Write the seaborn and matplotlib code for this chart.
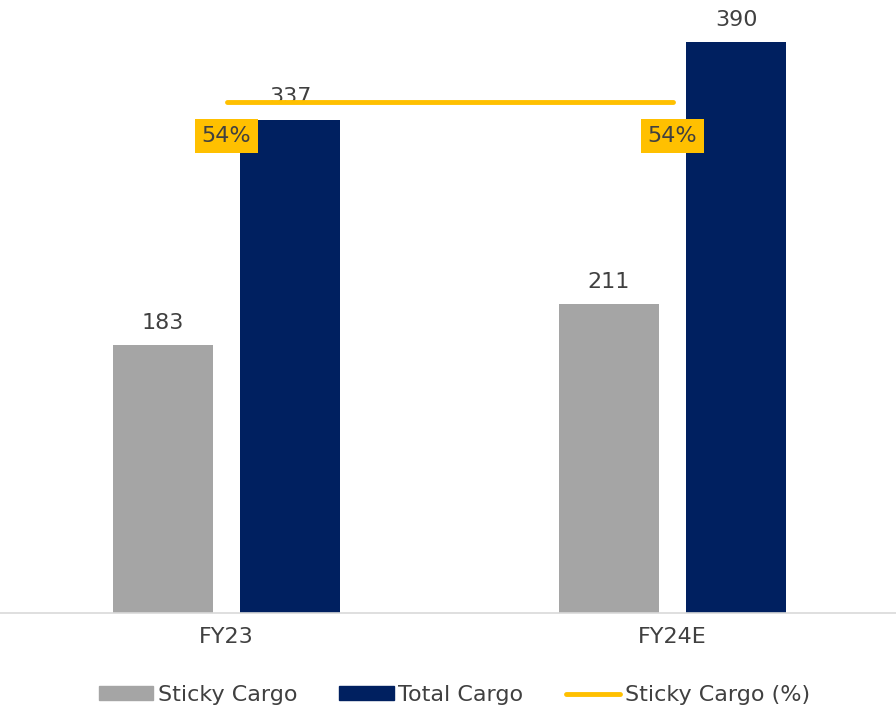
import matplotlib.pyplot as plt
import matplotlib.lines as mlines
import pandas as pd
import seaborn as sns

# values
years = ['FY23', 'FY24E']
sticky_cargo = [183, 211]
total_cargo = [337, 390]
sticky_pct = [0.54, 0.54]

df = pd.DataFrame({'Year': years * 2,
                   'Series': ['Sticky Cargo'] * 2 + ['Total Cargo'] * 2,
                   'Value': sticky_cargo + total_cargo})

sns.set_theme(style='white')
plt.rcParams['font.family'] = ['DejaVu Sans']
txt = '#404040'
fs = 16

fig = plt.figure(figsize=(8.96, 7.13), dpi=100)
ax = fig.add_axes([0, 100 / 713, 1, 613 / 713])

sns.barplot(data=df, x='Year', y='Value', hue='Series', ax=ax,
            palette=['#A5A5A5', '#002060'], width=0.57, gap=0.213,
            saturation=1, linewidth=0, legend=False)
for cont in ax.containers:
    ax.bar_label(cont, fmt='%d', padding=9, fontsize=fs, color=txt)

ax.set_xlim(-0.508, 1.501)
ax.set_ylim(0, 419)
ax.set_xlabel('')
ax.set_ylabel('')
ax.set_yticks([])
ax.tick_params(axis='x', length=0, labelsize=fs, labelcolor=txt, pad=10)
for s in ['top', 'right', 'left']:
    ax.spines[s].set_visible(False)
ax.spines['bottom'].set_color('#D9D9D9')
ax.spines['bottom'].set_linewidth(1.2)

ax2 = ax.twinx()
sns.lineplot(x=list(range(len(years))), y=sticky_pct, ax=ax2,
             color='#FFC000', linewidth=3.5, solid_capstyle='round')
ax2.set_ylim(0, 0.648)
ax2.axis('off')
for i, p in enumerate(sticky_pct):
    ax2.annotate(f'{p:.0%}', (i, p), xytext=(0, -24.5), textcoords='offset points',
                 ha='center', va='center', fontsize=fs, color=txt,
                 bbox=dict(boxstyle='square,pad=0.32', fc='#FFC000', ec='none'))

handles = [plt.Rectangle((0, 0), 1, 1, color='#A5A5A5'),
           plt.Rectangle((0, 0), 1, 1, color='#002060'),
           mlines.Line2D([], [], color='#FFC000', linewidth=3.5, solid_capstyle='round')]
fig.legend(handles, ['Sticky Cargo', 'Total Cargo', 'Sticky Cargo (%)'],
           loc='center', bbox_to_anchor=(0.507, 18 / 713), ncol=3, frameon=False,
           fontsize=fs, labelcolor=txt, handlelength=2.45, handleheight=0.55,
           handletextpad=0.2, columnspacing=1.9)

fig.savefig('out.png', dpi=100)
